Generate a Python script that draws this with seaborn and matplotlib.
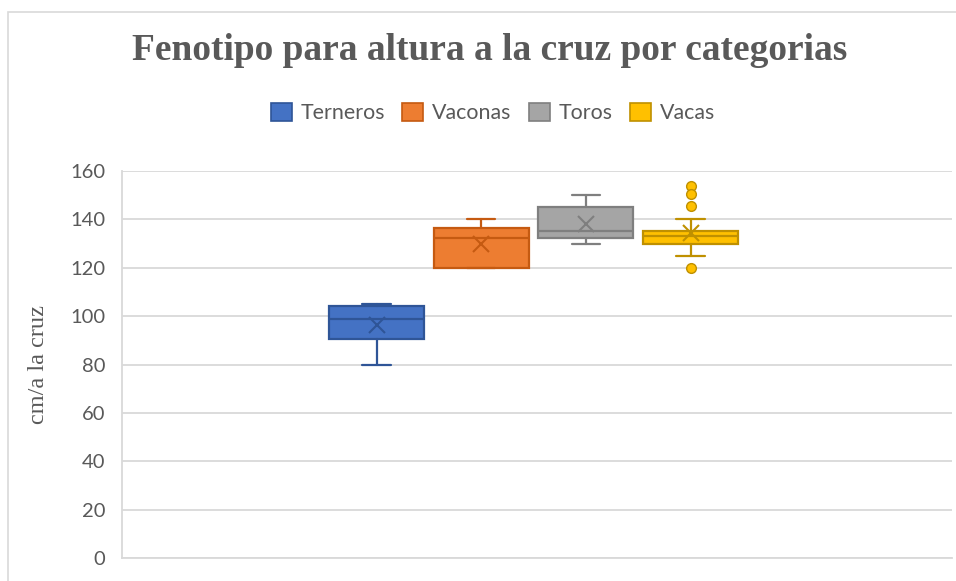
import matplotlib
matplotlib.use("Agg")
import matplotlib.pyplot as plt
from matplotlib.patches import Patch, Rectangle
import seaborn as sns

# resumen (cm a la cruz)
categorias = ["Terneros", "Vaconas", "Toros", "Vacas"]
bigote_inf = [80, 120, 130, 125]
q1 = [90.5, 120, 132.5, 130]
mediana = [99, 132.5, 135, 133]
q3 = [104, 136.5, 145, 135.3]
bigote_sup = [105, 140, 150, 140]
media = [96.5, 130, 138, 134.2]
atipicos = [[], [], [], [154, 150.3, 145.5, 120]]
y_ticks = [0, 20, 40, 60, 80, 100, 120, 140, 160]

relleno = ["#4472C4", "#ED7D31", "#A5A5A5", "#FFC000"]
borde = ["#2F5597", "#C55A11", "#7F7F7F", "#BF9000"]

sns.set_style("white")
plt.rcParams["font.family"] = ["Lato", "DejaVu Sans"]
gris = "#595959"

W, H = 956, 581
fig = plt.figure(figsize=(W / 100, H / 100), dpi=100)
ax = fig.add_axes([122 / W, (H - 558) / H, 830 / W, (558 - 171) / H])

pos = [1, 2, 3, 4]
for i, cat in enumerate(categorias):
    stats = [{
        "label": cat, "whislo": bigote_inf[i], "q1": q1[i], "med": mediana[i],
        "q3": q3[i], "whishi": bigote_sup[i], "mean": media[i], "fliers": atipicos[i],
    }]
    lw = 1.6
    ax.bxp(stats, positions=[pos[i]], widths=0.907, patch_artist=True,
           showmeans=True, showcaps=True, showfliers=True,
           boxprops=dict(facecolor=relleno[i], edgecolor=borde[i], linewidth=lw),
           medianprops=dict(color=borde[i], linewidth=lw),
           whiskerprops=dict(color=borde[i], linewidth=lw),
           capprops=dict(color=borde[i], linewidth=lw),
           capwidths=0.27,
           meanprops=dict(marker="x", markersize=12, markeredgecolor=borde[i],
                          markeredgewidth=1.5),
           flierprops=dict(marker="o", markersize=7, markerfacecolor=relleno[i],
                           markeredgecolor=borde[i], markeredgewidth=1),
           zorder=3)

ax.set_xlim(-1.431, 6.497)
ax.set_ylim(0, 160)
ax.set_yticks(y_ticks)
ax.set_xticks([])
ax.yaxis.grid(True, color="#D9D9D9", linewidth=1.3)
ax.set_axisbelow(True)
for s in ["top", "right"]:
    ax.spines[s].set_visible(False)
for s in ["left", "bottom"]:
    ax.spines[s].set_color("#D9D9D9")
    ax.spines[s].set_linewidth(1.3)
ax.tick_params(axis="y", length=0, pad=12, labelsize=14.5, labelcolor=gris)
ax.set_ylabel("cm/a la cruz", family="Liberation Serif", fontsize=17.5, color=gris,
              labelpad=15)

fig.text(490 / W, 1 - 60 / H, "Fenotipo para altura a la cruz por categorias",
         ha="center", va="baseline", family="Liberation Serif", fontweight="bold",
         fontsize=26.9, color=gris)

handles = [Patch(facecolor=relleno[i], edgecolor=borde[i], linewidth=1.2, label=c)
           for i, c in enumerate(categorias)]
fig.legend(handles=handles, loc="center", bbox_to_anchor=(493 / W, 1 - 113 / H),
           ncol=4, frameon=False, fontsize=15.4, labelcolor=gris,
           handlelength=0.98, handleheight=0.98, handletextpad=0.42, columnspacing=0.8)

fig.patches.append(Rectangle((8 / W, -0.1), 1.2, 1.1 - 12 / H, transform=fig.transFigure,
                             fill=False, edgecolor="#D9D9D9", linewidth=1.2))

fig.savefig("out.png", dpi=100)
